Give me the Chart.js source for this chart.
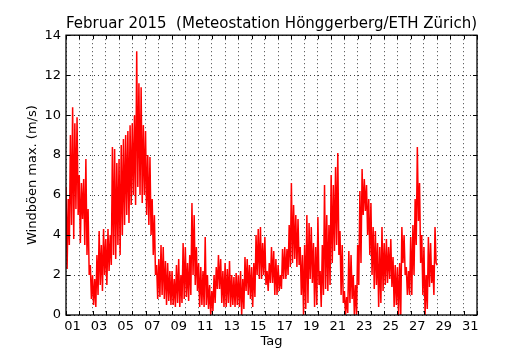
<!DOCTYPE html>
<html>
<head>
<meta charset="utf-8">
<script src="https://cdn.jsdelivr.net/npm/chart.js@4"></script>
<style>
  body { margin: 0; background: #fff; }
  #wrap { width: 530px; height: 350px; }
</style>
</head>
<body>
<div id="wrap"><canvas id="windChart" width="530" height="350"></canvas></div>
<script>
// Tick labels on the x axis (every second day)
const tage = ['01', '03', '05', '07', '09', '11', '13', '15', '17', '19', '21', '23', '25', '27', '29', '31'];
const yTicks = [0, 2, 4, 6, 8, 10, 12, 14];

// Max. gusts (m/s), one value every 2 hours starting 1 Feb 00:00
const schrittStunden = 2;
const boeen = [
  6.4, 2.3, 5.8, 3.5, 9.0, 4.5, 10.4, 3.8, 9.6, 5.3, 9.9, 5.0,   // 01
  7.0, 3.6, 6.6, 4.8, 6.8, 3.5, 7.8, 3.0, 5.3, 2.0, 2.5, 0.8,    // 02
  2.0, 0.5, 1.8, 0.4, 3.0, 1.0, 4.2, 1.5, 3.5, 1.2, 4.3, 2.0,    // 03
  3.8, 1.5, 4.3, 2.2, 4.0, 2.5, 8.4, 3.0, 8.3, 2.8, 7.6, 3.5,    // 04
  7.8, 3.0, 8.5, 4.0, 8.8, 4.5, 9.0, 5.0, 9.2, 4.6, 9.5, 5.5,    // 05
  9.6, 6.0, 10.0, 5.5, 13.2, 6.4, 11.6, 6.0, 11.4, 5.6, 9.5, 6.0, // 06
  9.2, 5.0, 8.0, 4.5, 7.9, 4.0, 5.8, 3.0, 5.0, 2.0, 2.5, 0.8,    // 07
  2.8, 0.9, 3.5, 1.0, 3.4, 0.8, 2.7, 0.5, 2.6, 0.7, 2.2, 0.5,    // 08
  2.2, 0.5, 1.8, 0.4, 2.5, 0.6, 2.8, 0.4, 2.0, 0.6, 3.6, 0.8,    // 09
  3.4, 0.9, 2.6, 0.7, 3.0, 1.0, 5.6, 2.0, 5.0, 1.5, 3.4, 1.2,    // 10
  2.6, 0.4, 2.4, 0.5, 2.2, 0.4, 3.9, 0.5, 2.0, 0.3, 1.5, 0.0,    // 11
  1.2, 0.2, 2.0, 0.6, 2.4, 1.3, 3.0, 1.3, 2.8, 0.6, 2.2, 0.4,    // 12
  2.6, 0.4, 2.3, 0.6, 2.7, 0.4, 2.0, 0.5, 1.9, 0.4, 2.1, 0.5,    // 13
  2.0, 0.4, 2.2, 0.0, 1.8, 0.3, 2.9, 1.2, 2.8, 1.0, 2.5, 0.8,    // 14
  2.4, 0.4, 2.6, 0.9, 4.0, 2.0, 4.3, 1.8, 4.4, 1.8, 3.6, 2.0,    // 15
  3.9, 1.5, 2.2, 1.2, 2.6, 1.6, 3.4, 1.6, 3.2, 1.0, 2.8, 1.0,    // 16
  2.5, 1.2, 2.0, 1.3, 3.3, 1.8, 3.4, 1.8, 3.3, 2.0, 4.5, 2.4,    // 17
  6.6, 2.6, 5.5, 2.8, 5.0, 2.4, 4.8, 2.5, 3.4, 1.0, 3.0, 0.0,    // 18
  3.5, 0.3, 5.0, 0.6, 4.6, 1.8, 4.4, 1.6, 3.6, 0.4, 3.4, 0.5,    // 19
  4.9, 1.5, 2.2, 0.4, 3.5, 1.0, 6.5, 1.3, 5.0, 1.2, 4.5, 1.5,    // 20
  7.0, 2.6, 6.5, 3.2, 7.4, 3.5, 8.1, 3.0, 4.2, 1.0, 3.5, 0.6,    // 21
  1.2, 0.0, 0.9, 0.1, 3.2, 0.6, 3.0, 0.8, 2.0, 0.0, 1.5, 0.0,    // 22
  3.5, 1.5, 6.2, 2.6, 7.3, 5.0, 6.8, 5.2, 6.5, 4.0, 5.8, 3.0,    // 23
  5.6, 2.0, 4.4, 1.3, 4.2, 1.5, 3.6, 0.4, 3.4, 0.6, 4.4, 1.2,    // 24
  3.6, 1.5, 3.8, 1.6, 3.4, 1.8, 3.8, 1.4, 2.9, 0.4, 2.5, 0.5,    // 25
  2.4, 0.0, 2.6, 0.0, 4.4, 2.6, 4.0, 2.0, 2.4, 1.0, 2.2, 1.0,    // 26
  3.9, 1.0, 4.5, 2.0, 5.8, 3.5, 8.4, 4.7, 6.6, 2.6, 4.0, 1.0,    // 27
  3.4, 0.0, 2.0, 0.3, 3.9, 1.4, 3.6, 1.6, 2.5, 1.0, 4.4, 2.6,    // 28
  2.5
];

const punkte = boeen.map((v, i) => ({ x: i * schrittStunden / 24, y: v }));

const FONT = "'DejaVu Sans', sans-serif";

// frame on all four sides plus small inward ticks, like the original plot
const rahmen = {
  id: 'rahmen',
  afterDraw(chart) {
    const { ctx, chartArea: a, scales } = chart;
    ctx.save();
    ctx.strokeStyle = '#000';
    ctx.lineWidth = 1;
    ctx.beginPath();
    for (let d = 0; d <= 31; d++) {
      const px = Math.round(scales.x.getPixelForValue(d)) + 0.5;
      ctx.moveTo(px, a.bottom); ctx.lineTo(px, a.bottom - 4);
      ctx.moveTo(px, a.top); ctx.lineTo(px, a.top + 4);
    }
    yTicks.forEach(v => {
      const py = Math.round(scales.y.getPixelForValue(v)) + 0.5;
      ctx.moveTo(a.left, py); ctx.lineTo(a.left + 4, py);
      ctx.moveTo(a.right, py); ctx.lineTo(a.right - 4, py);
    });
    ctx.stroke();
    ctx.lineWidth = 1.3;
    ctx.strokeRect(a.left, a.top, a.right - a.left, a.bottom - a.top);
    ctx.restore();
  }
};

new Chart(document.getElementById('windChart'), {
  type: 'line',
  data: {
    datasets: [{
      data: punkte,
      borderColor: '#ff0000',
      borderWidth: 1.5,
      pointRadius: 0,
      tension: 0,
      fill: false
    }]
  },
  options: {
    responsive: false,
    animation: false,
    events: [],
    layout: { padding: { left: 0, right: 53, top: 0, bottom: 0 } },
    plugins: {
      legend: { display: false },
      tooltip: { enabled: false },
      title: {
        display: true,
        fullSize: false,
        text: 'Februar 2015  (Meteostation Hönggerberg/ETH Zürich)',
        color: '#000',
        font: { family: FONT, size: 16, weight: 'normal' },
        padding: { top: 14, bottom: 2 }
      }
    },
    scales: {
      x: {
        type: 'linear',
        min: 0,
        max: 31,
        afterFit(scale) { scale.height = 35; },
        afterBuildTicks(scale) {
          scale.ticks = [];
          for (let d = 0; d <= 31; d++) scale.ticks.push({ value: d });
        },
        ticks: {
          autoSkip: false,
          maxRotation: 0,
          color: '#000',
          font: { family: FONT, size: 13 },
          padding: 4,
          labelOffset: 6.6,
          callback: (v) => (v % 2 === 0 && v / 2 < tage.length) ? tage[v / 2] : ''
        },
        grid: { color: 'rgba(0,0,0,0.75)', lineWidth: 1, drawTicks: false },
        border: { display: false, dash: [1, 3] },
        title: {
          display: true,
          text: 'Tag',
          color: '#000',
          font: { family: FONT, size: 13 },
          padding: { top: 0, bottom: 1 }
        }
      },
      y: {
        min: 0,
        max: 14,
        afterFit(scale) { scale.width = 66; },
        afterBuildTicks(scale) {
          scale.ticks = yTicks.map(v => ({ value: v }));
        },
        ticks: {
          color: '#000',
          font: { family: FONT, size: 13 },
          padding: 5
        },
        grid: { color: 'rgba(0,0,0,0.75)', lineWidth: 1, drawTicks: false },
        border: { display: false, dash: [1, 3] },
        title: {
          display: true,
          text: 'Windböen max. (m/s)',
          color: '#000',
          font: { family: FONT, size: 13 },
          padding: { top: 25, bottom: 0 }
        }
      }
    }
  },
  plugins: [rahmen]
});
</script>
</body>
</html>
